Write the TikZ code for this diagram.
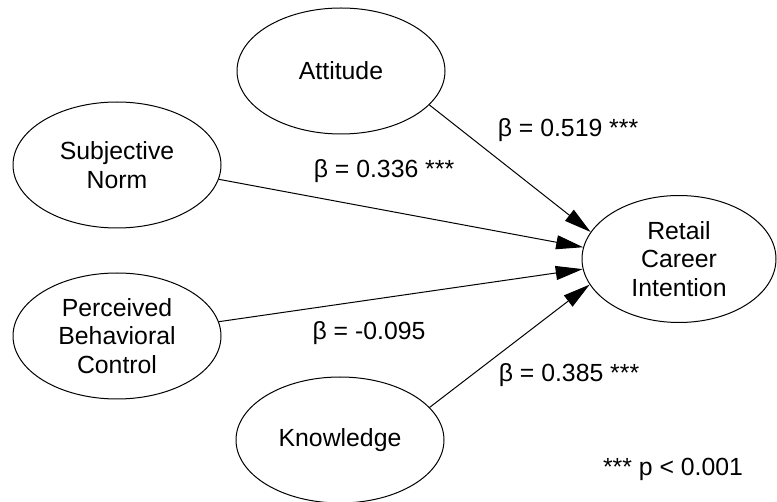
\documentclass[tikz,border=0pt]{standalone}
\usepackage{fontspec}
\setmainfont{Liberation Sans}
\usetikzlibrary{shapes.geometric,arrows.meta}
\begin{document}
\begin{tikzpicture}[x=0.5pt,y=-0.5pt,line join=round,
  font=\fontsize{12.4}{14.4}\selectfont,
  construct/.style={ellipse,draw,line width=0.5pt,minimum width=104pt,minimum height=63pt,inner sep=0pt,align=center},
  effect/.style={draw,line width=0.5pt,-{Triangle[length=13.5pt,width=7pt]}},
  coef/.style={anchor=base,inner sep=0pt}]
\useasboundingbox (0,0) rectangle (777,502);
% constructs
\node[construct] (att) at (341,71) {Attitude};
\node[construct] (sn) at (117,165) {Subjective\\Norm};
\node[construct] (pbc) at (117,336) {Perceived\\Behavioral\\Control};
\node[construct] (know) at (340,440) {Knowledge};
\node[construct,minimum width=97pt,minimum height=63.5pt] (rci) at (679,259) {Retail\\Career\\Intention};
% paths
\draw[effect] (att.-21) -- (rci.163);
\draw[effect] (sn.-8) -- (rci.173.5);
\draw[effect] (pbc.8) -- (rci.-174.5);
\draw[effect] (know.20) -- (rci.196);
% coefficients
\node[coef] (b1) at (568,137) {β = 0.519 ***};
\node[coef] (b2) at (384,178) {β = 0.336 ***};
\node[coef] (b3) at (369,340) {β = -0.095};
\node[coef] (b4) at (569,382) {β = 0.385 ***};
\node[coef] (note) at (673,475) {*** p < 0.001};
\end{tikzpicture}
\end{document}
